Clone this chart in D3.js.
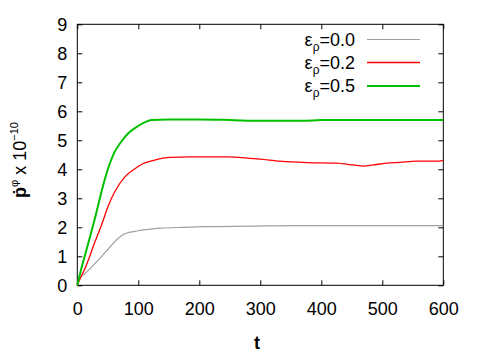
<!DOCTYPE html>
<html><head><meta charset="utf-8">
<script src="https://cdn.jsdelivr.net/npm/d3@7"></script>
<style>body{margin:0;background:#fff}text{font-family:"Liberation Sans",Arial,sans-serif}</style>
</head><body><svg id="c" width="480" height="360"></svg>
<script>
const xTicks = [0,100,200,300,400,500,600];
const yTicks = [0,1,2,3,4,5,6,7,8,9];
const labels = ["0.0","0.2","0.5"];
const colors = ["#a0a0a0","#ff0000","#00c000"];
const widths = [1.2,1.3,2];

const tGray = [0,4,13,37,54,67,78,100,122,136,174,207,283,354,600];
const vGray = [0,0.24,0.41,0.93,1.33,1.62,1.78,1.88,1.94,1.97,2.0,2.02,2.04,2.06,2.06];
const tRed = [0,4,13,29,40,51,62,78,95,108,127,152,185,245,283,300,332,376,425,452,469,485,507,529,556,589,600];
const vRed = [0,0.2,0.6,1.5,2.1,2.75,3.25,3.74,4.03,4.2,4.32,4.41,4.43,4.43,4.38,4.35,4.28,4.23,4.21,4.15,4.11,4.15,4.21,4.24,4.28,4.28,4.31];
const tGreen = [0,4,18,30,40,50,60,72,84,100,122,150,200,250,300,370,400,500,600];
const vGreen = [0,0.36,1.45,2.4,3.25,4.0,4.55,4.95,5.25,5.5,5.70,5.72,5.72,5.70,5.67,5.67,5.70,5.70,5.70];

const series = [[tGray,vGray],[tRed,vRed],[tGreen,vGreen]];

const L=77.3,R=443.3,T=24.3,B=285.3;
const x=d3.scaleLinear().domain([0,600]).range([L,R]);
const y=d3.scaleLinear().domain([0,9]).range([B,T]);
const svg=d3.select("#c");
svg.append("rect").attr("width",480).attr("height",360).attr("fill","#fff");

const fs=18;
const ax=svg.append("g").attr("transform",`translate(0,${B})`)
  .call(d3.axisBottom(x).tickValues(xTicks).tickSizeInner(-5).tickSizeOuter(0).tickPadding(14));
const ay=svg.append("g").attr("transform",`translate(${L},0)`)
  .call(d3.axisLeft(y).tickValues(yTicks).tickSizeInner(-5).tickSizeOuter(0).tickPadding(10));
const at=svg.append("g").attr("transform",`translate(0,${T})`)
  .call(d3.axisTop(x).tickValues(xTicks).tickSizeInner(-5).tickSizeOuter(0).tickFormat(""));
const ar=svg.append("g").attr("transform",`translate(${R},0)`)
  .call(d3.axisRight(y).tickValues(yTicks).tickSizeInner(-5).tickSizeOuter(0).tickFormat(""));
[ax,ay,at,ar].forEach(g=>{g.select(".domain").remove();g.selectAll("line").attr("stroke","#000");
  g.selectAll("text").attr("font-size",fs).attr("fill","#000").attr("font-family","Liberation Sans, Arial, sans-serif");});
ax.selectAll("text").attr("dy","0.9em");
svg.append("rect").attr("x",L).attr("y",T).attr("width",R-L).attr("height",B-T)
  .attr("fill","none").attr("stroke","#000").attr("stroke-width",1);

const line=d3.line().x(d=>x(d[0])).y(d=>y(d[1])).curve(d3.curveMonotoneX);
series.forEach((s,i)=>{
  const pts=s[0].map((t,j)=>[t,s[1][j]]);
  svg.append("path").datum(pts).attr("d",line).attr("fill","none")
    .attr("stroke",colors[i]).attr("stroke-width",widths[i]);
});

const ly=[39.5,62.5,86];
labels.forEach((lab,i)=>{
  const t=svg.append("text").attr("x",355).attr("y",ly[i]+6).attr("text-anchor","end").attr("font-size",fs);
  t.append("tspan").text("ε");
  t.append("tspan").attr("font-size",12).attr("dy",5).text("ρ");
  t.append("tspan").attr("dy",-5).text("="+lab);
  svg.append("line").attr("x1",367).attr("x2",420).attr("y1",ly[i]).attr("y2",ly[i])
    .attr("stroke",colors[i]).attr("stroke-width",widths[i]);
});

svg.append("text").attr("x",257).attr("y",349).attr("text-anchor","middle").attr("font-size",fs)
  .attr("font-weight","bold").text("t");
const yl=svg.append("text").attr("transform","translate(26,160) rotate(-90)").attr("text-anchor","middle").attr("font-size",fs);
yl.append("tspan").attr("font-weight","bold").text("p\u0307");
yl.append("tspan").attr("font-size",11).attr("dy",-8).text("φ");
yl.append("tspan").attr("dy",8).text(" x 10");
yl.append("tspan").attr("font-size",11).attr("dy",-8).text("−10");
</script></body></html>
